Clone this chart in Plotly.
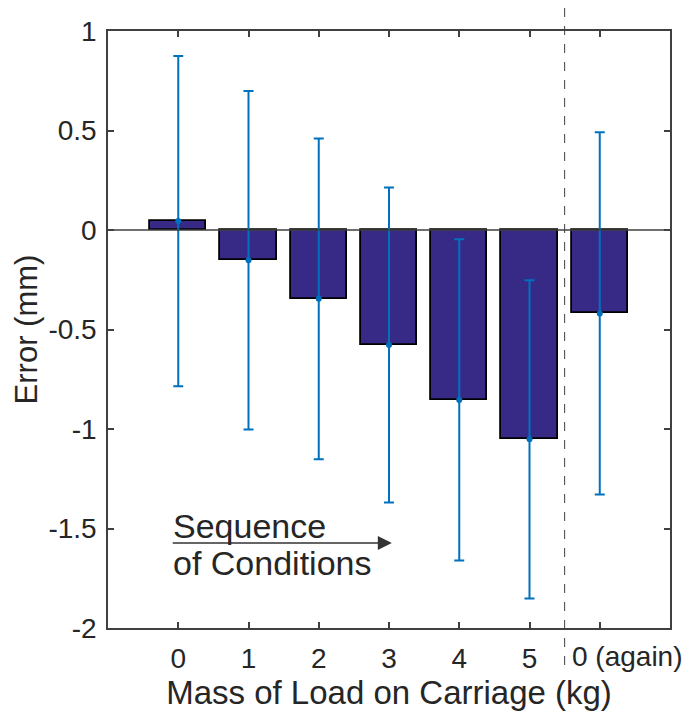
import plotly.graph_objects as go

categories = ["0", "1", "2", "3", "4", "5", "0 (again)"]
positions = [0, 1, 2, 3, 4, 5, 6]
mean_error = [0.045, -0.152, -0.346, -0.578, -0.854, -1.052, -0.419]
err_plus = [0.83, 0.85, 0.806, 0.791, 0.807, 0.80, 0.91]
err_minus = [0.83, 0.85, 0.806, 0.791, 0.807, 0.80, 0.91]
y_ticks = [1, 0.5, 0, -0.5, -1, -1.5, -2]
y_tick_text = ["1", "0.5", "0", "-0.5", "-1", "-1.5", "-2"]

AX = "#404040"
TXT = "#262626"
FONT = "Liberation Sans, Arial, sans-serif"

# the last category label sits just right of the separator, as in the source
tick_text_axis = categories[:-1] + [""]

fig = go.Figure()
fig.add_trace(go.Bar(
    x=positions, y=mean_error, width=0.8,
    marker=dict(color="#372a87", line=dict(color="black", width=1.8)),
    showlegend=False, hoverinfo="skip",
))
fig.add_trace(go.Scatter(
    x=positions, y=mean_error, mode="markers",
    marker=dict(color="#0072BD", size=6),
    error_y=dict(type="data", symmetric=False, array=err_plus, arrayminus=err_minus,
                 color="#0072BD", thickness=2, width=5),
    showlegend=False,
))

fig.add_shape(type="line", xref="paper", yref="y", x0=0, x1=1, y0=0, y1=0,
              line=dict(color=AX, width=1.5), layer="above")
fig.add_shape(type="line", xref="x", yref="paper", x0=5.5, x1=5.5, y0=-0.062, y1=1.06,
              line=dict(color=AX, width=1, dash="dash"), layer="above")

fig.add_annotation(x=5.57, y=-0.047, xref="x", yref="paper", text=categories[-1],
                   showarrow=False, xanchor="left", yanchor="middle",
                   font=dict(family=FONT, size=28, color=TXT))

fig.add_annotation(x=3.04, y=-1.573, ax=-0.1, ay=-1.573, xref="x", yref="y",
                   axref="x", ayref="y", text="", showarrow=True,
                   arrowhead=2, arrowsize=2.0, arrowwidth=1.4, arrowcolor="#333333")
fig.add_annotation(x=-0.1, y=-1.487, xref="x", yref="y", text="Sequence",
                   showarrow=False, xanchor="left", yanchor="middle",
                   font=dict(family=FONT, size=34, color=TXT))
fig.add_annotation(x=-0.1, y=-1.673, xref="x", yref="y", text="of Conditions",
                   showarrow=False, xanchor="left", yanchor="middle",
                   font=dict(family=FONT, size=34, color=TXT))

fig.update_layout(
    width=683, height=716,
    margin=dict(l=108, r=13, t=31, b=88),
    paper_bgcolor="white", plot_bgcolor="white",
    font=dict(family=FONT, color=TXT),
    bargap=0,
    xaxis=dict(
        range=[-1, 7], tickmode="array", tickvals=positions, ticktext=tick_text_axis,
        showline=True, linecolor=AX, linewidth=1.5, mirror="ticks",
        ticks="inside", ticklen=6, tickwidth=1.5, tickcolor=AX,
        showgrid=False, zeroline=False, ticklabelstandoff=5,
        tickfont=dict(size=28, color=TXT),
        title=dict(text="Mass of Load on Carriage (kg)", font=dict(size=33, color=TXT), standoff=6),
    ),
    yaxis=dict(
        range=[-2, 1], tickmode="array", tickvals=y_ticks, ticktext=y_tick_text,
        showline=True, linecolor=AX, linewidth=1.5, mirror="ticks",
        ticks="inside", ticklen=6, tickwidth=1.5, tickcolor=AX,
        showgrid=False, zeroline=False, ticklabelstandoff=4,
        tickfont=dict(size=28, color=TXT),
        title=dict(text="Error (mm)", font=dict(size=31, color=TXT), standoff=2),
    ),
)

fig.write_html("out.html")
